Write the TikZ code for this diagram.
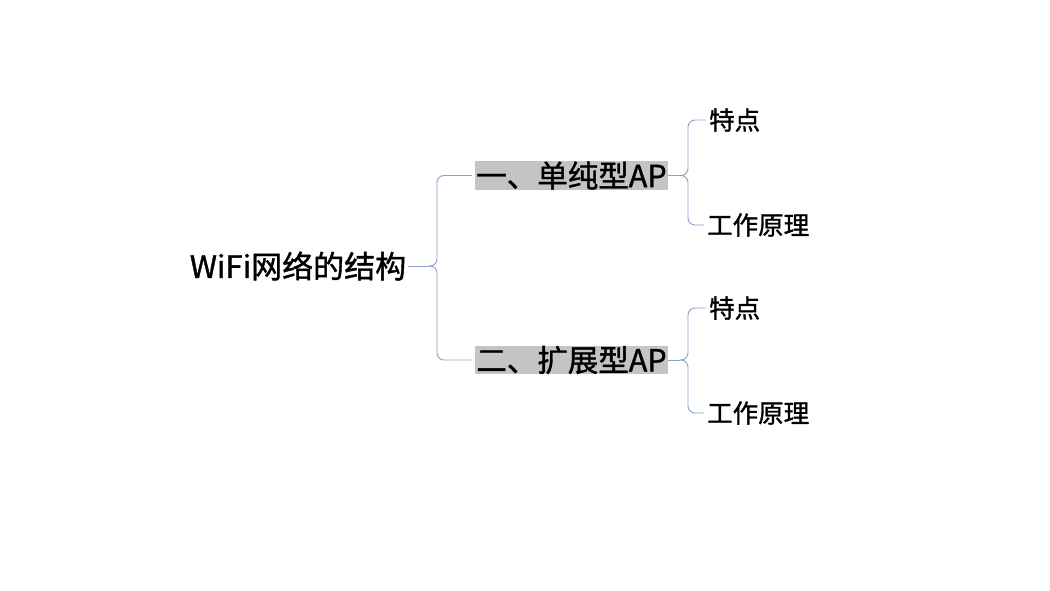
\documentclass[tikz,border=0pt]{standalone}
\usepackage{fontspec}
\setmainfont[RawFeature={embolden=1.2}]{Noto Sans CJK SC}
\begin{document}
\begin{tikzpicture}[x=1pt,y=1pt,
  conn/.style={draw=brc, line width=0.9pt, rounded corners=7pt},
  root/.style={inner sep=0pt, font=\fontsize{31}{33}\selectfont},
  apbox/.style={fill=hl, inner sep=0pt, minimum width=193pt, minimum height=28pt, font=\fontsize{30.5}{32}\selectfont},
  leaf/.style={inner sep=0pt, anchor=west, font=\fontsize{25.5}{27}\selectfont}]
\definecolor{brc}{HTML}{8A9FCB}
\definecolor{hl}{HTML}{C4C4C4}
\useasboundingbox (0,0) rectangle (1050,-590);
\node[root] (root) at (298,-266) {WiFi网络的结构};
\node[apbox] (a1) at (571.5,-175.5) {一、单纯型AP};
\node[apbox] (a2) at (571.5,-360) {二、扩展型AP};
\node[leaf] (l1) at (709,-120) {特点};
\node[leaf] (l2) at (707,-225) {工作原理};
\node[leaf] (l3) at (709,-308) {特点};
\node[leaf] (l4) at (707,-413) {工作原理};
\coordinate (m0) at (429,-266);
\coordinate (m1) at (680,-175.5);
\coordinate (m2) at (680,-360);
\draw[conn] ([xshift=2pt]root.east) -- (m0);
\draw[conn] (m0) -- ++(8,0) |- ([xshift=-3pt]a1.west);
\draw[conn] (m0) -- ++(8,0) |- ([xshift=-3pt]a2.west);
\draw[conn] (a1.east) -- (m1);
\draw[conn] (m1) -- ++(8,0) |- ([xshift=-3pt]l1.west);
\draw[conn] (m1) -- ++(8,0) |- ([xshift=-3pt]l2.west);
\draw[conn] (a2.east) -- (m2);
\draw[conn] (m2) -- ++(8,0) |- ([xshift=-3pt]l3.west);
\draw[conn] (m2) -- ++(8,0) |- ([xshift=-3pt]l4.west);
\end{tikzpicture}
\end{document}
